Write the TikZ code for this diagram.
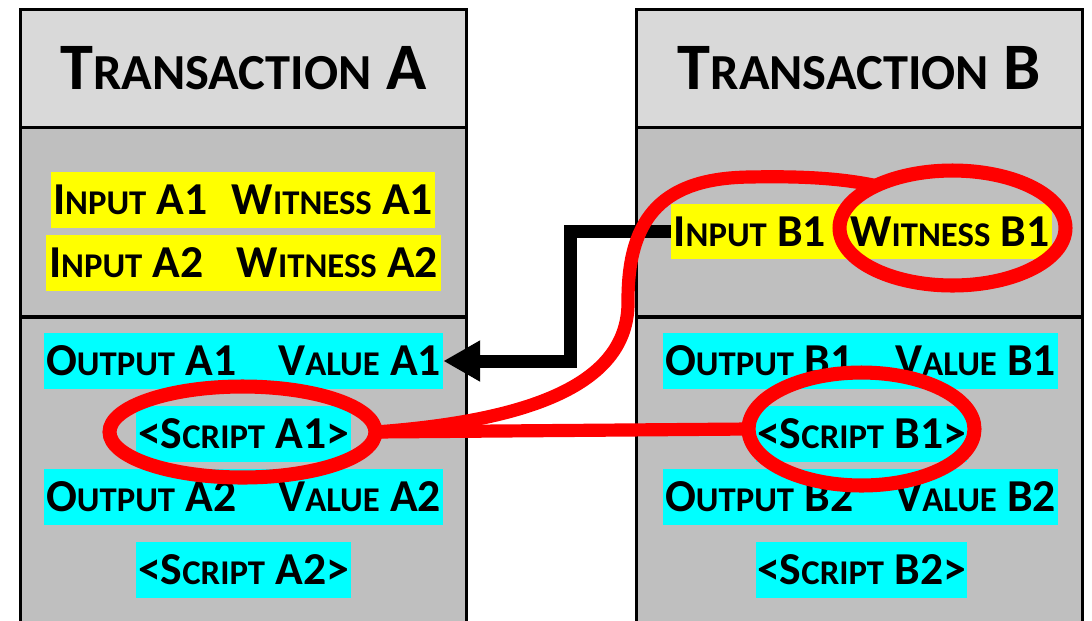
\documentclass[tikz,border=0pt]{standalone}
\usepackage{fontspec}
\setmainfont{Carlito}
\usepackage{graphicx}
\usetikzlibrary{shapes.geometric,arrows.meta}
\newcommand\smc[1]{\scalebox{0.76}{#1}}
\definecolor{hdrgray}{HTML}{D9D9D9}
\definecolor{bodygray}{HTML}{BFBFBF}
\definecolor{hlyellow}{HTML}{FFFF00}
\definecolor{hlcyan}{HTML}{00FFFF}
\definecolor{markred}{HTML}{FF0000}
\begin{document}
\begin{tikzpicture}[x=0.02cm,y=-0.02cm,
  panel/.style={draw=black, line width=1.7pt, rectangle, inner sep=0pt, minimum width=8.94cm},
  hdr/.style={panel, fill=hdrgray, minimum height=2.36cm, font=\bfseries\fontsize{37.8}{40}\selectfont},
  body/.style={panel, fill=bodygray},
  hl/.style={rectangle, inner sep=0pt, minimum height=1.12cm, font=\bfseries\fontsize{26}{28}\selectfont},
  inrow/.style={hl, fill=hlyellow},
  outrow/.style={hl, fill=hlcyan},
  redring/.style={ellipse, draw=markred, line width=8pt, inner sep=0pt, outer sep=0pt},
  redline/.style={draw=markred, line width=7.5pt, line cap=round},
  spendarrow/.style={draw=black, line width=7.4pt, -{Triangle[length=21pt,width=22pt]}}
]
\clip (0,0) rectangle (1092,620);
% Transaction A
\node[hdr] (hA) at (243.5,68) {T\smc{RANSACTION} A};
\node[body, minimum height=3.8cm] (inA) at (243.5,222) {};
\node[body, minimum height=6.46cm] (outA) at (243.5,478.5) {};
% Transaction B
\node[hdr] (hB) at (859.5,68) {T\smc{RANSACTION} B};
\node[body, minimum height=3.8cm] (inB) at (859.5,222) {};
\node[body, minimum height=6.46cm] (outB) at (859.5,478.5) {};
% inputs A
\node[inrow, minimum width=7.68cm] (iA1) at (243,200) {\makebox[7.6cm]{I\smc{NPUT} A1\hfill W\smc{ITNESS} A1}};
\node[inrow, minimum width=7.9cm] (iA2) at (243.5,263) {\makebox[7.78cm]{I\smc{NPUT} A2\hfill W\smc{ITNESS} A2}};
% outputs A
\node[outrow, minimum width=7.98cm] (oA1) at (243.5,361) {\makebox[7.9cm]{O\smc{UTPUT} A1\hfill V\smc{ALUE} A1}};
\node[outrow, minimum width=4.3cm] (sA1) at (243.5,434) {<S\smc{CRIPT} A1>};
\node[outrow, minimum width=7.98cm] (oA2) at (243.5,497) {\makebox[7.9cm]{O\smc{UTPUT} A2\hfill V\smc{ALUE} A2}};
\node[outrow, minimum width=4.3cm] (sA2) at (243.5,569.5) {<S\smc{CRIPT} A2>};
% inputs B
\node[inrow, minimum width=7.62cm, minimum height=1.1cm] (iB1) at (861.5,231.5) {\makebox[7.52cm]{I\smc{NPUT} B1\hfill W\smc{ITNESS} B1}};
% outputs B
\node[outrow, minimum width=7.9cm] (oB1) at (860.5,361) {\makebox[7.82cm]{O\smc{UTPUT} B1\hfill V\smc{ALUE} B1}};
\node[outrow, minimum width=4.22cm] (sB1) at (861.5,434) {<S\smc{CRIPT} B1>};
\node[outrow, minimum width=7.9cm] (oB2) at (860.5,497) {\makebox[7.82cm]{O\smc{UTPUT} B2\hfill V\smc{ALUE} B2}};
\node[outrow, minimum width=4.22cm] (sB2) at (861.5,569.5) {<S\smc{CRIPT} B2>};
% spending arrow
\coordinate (bend) at (570,300);
\draw[spendarrow] (iB1.west) -| (bend) |- (oA1.east);
% red marks
\node[redring, minimum width=5.32cm, minimum height=1.82cm] (eA) at (242.5,432) {};
\node[redring, minimum width=4.52cm, minimum height=2.26cm] (eB) at (861.5,429) {};
\node[redring, minimum width=4.52cm, minimum height=2.30cm] (eW) at (952.5,228) {};
\draw[redline] (eA.east) -- (eB.west);
\coordinate (c1) at (628,300);
\coordinate (c2) at (750,177);
\draw[redline] (eA.east) .. controls (540,420) and (630,380) .. (c1)
  .. controls (628,215) and (665,178) .. (c2)
  .. controls (800,176) and (840,178) .. (eW.151);
\end{tikzpicture}
\end{document}
